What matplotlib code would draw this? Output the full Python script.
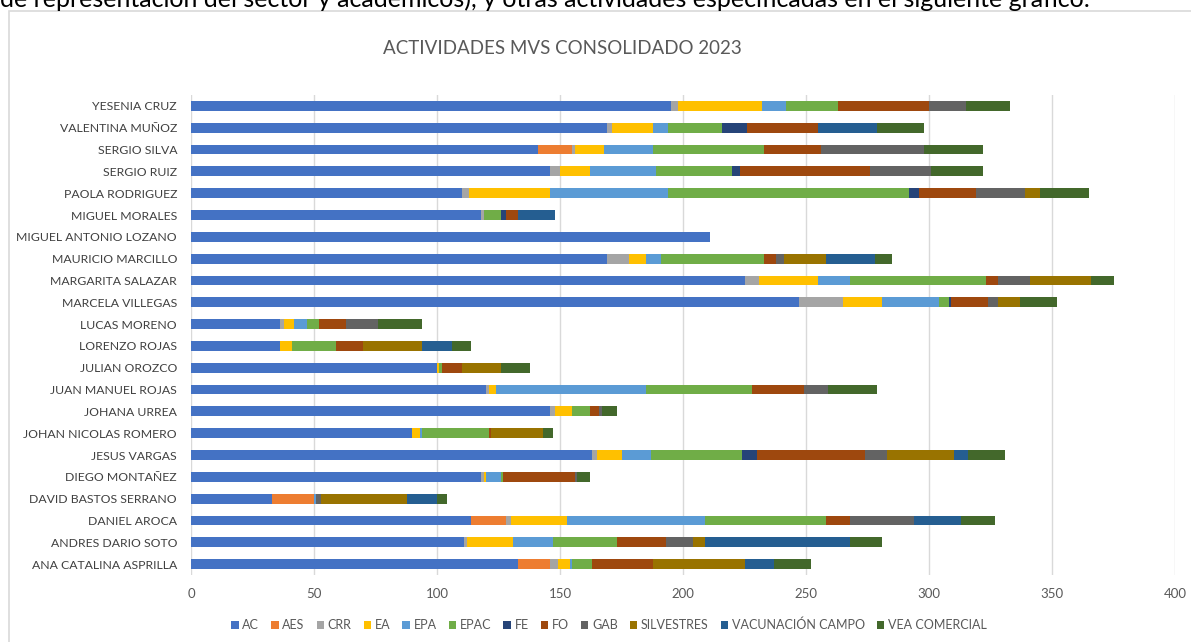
import numpy as np
import matplotlib.pyplot as plt
from matplotlib.patches import Rectangle

plt.rcParams['font.family'] = ['Lato', 'DejaVu Sans']

names = ["ANA CATALINA ASPRILLA", "ANDRES DARIO SOTO", "DANIEL AROCA",
         "DAVID BASTOS SERRANO", "DIEGO MONTAÑEZ", "JESUS VARGAS",
         "JOHAN NICOLAS ROMERO", "JOHANA URREA", "JUAN MANUEL ROJAS",
         "JULIAN OROZCO", "LORENZO ROJAS", "LUCAS MORENO", "MARCELA VILLEGAS",
         "MARGARITA SALAZAR", "MAURICIO MARCILLO", "MIGUEL ANTONIO LOZANO",
         "MIGUEL MORALES", "PAOLA RODRIGUEZ", "SERGIO RUIZ", "SERGIO SILVA",
         "VALENTINA MUÑOZ", "YESENIA CRUZ"]

activities = ["AC", "AES", "CRR", "EA", "EPA", "EPAC", "FE", "FO", "GAB",
              "SILVESTRES", "VACUNACIÓN CAMPO", "VEA COMERCIAL"]

# one list per activity, same order as names
AC = [133, 111, 114, 33, 118, 163, 90, 146, 120, 100, 36, 36, 247, 225, 169, 211, 118, 110, 146, 141, 169, 195]
AES = [13, 0, 14, 17, 0, 0, 0, 0, 0, 0, 0, 0, 0, 0, 0, 0, 0, 0, 0, 14, 0, 0]
CRR = [3, 1, 2, 0, 1, 2, 0, 2, 1, 0, 0, 2, 18, 6, 9, 0, 1, 3, 4, 1, 2, 3]
EA = [5, 19, 23, 0, 1, 10, 3, 7, 3, 1, 5, 4, 16, 24, 7, 0, 0, 33, 12, 12, 17, 34]
EPA = [1, 16, 56, 1, 6, 12, 1, 0, 61, 0, 0, 5, 23, 13, 6, 0, 0, 48, 27, 20, 6, 10]
EPAC = [8, 26, 49, 0, 1, 37, 27, 7, 43, 1, 18, 5, 4, 55, 42, 0, 7, 98, 31, 45, 22, 21]
FE = [0, 0, 0, 0, 0, 6, 0, 0, 0, 0, 0, 0, 1, 0, 0, 0, 2, 4, 3, 0, 10, 0]
FO = [25, 20, 10, 0, 29, 44, 1, 4, 21, 8, 11, 11, 15, 5, 5, 0, 5, 23, 53, 23, 29, 37]
GAB = [0, 11, 26, 2, 1, 9, 0, 1, 10, 0, 0, 13, 4, 13, 3, 0, 0, 20, 25, 42, 0, 15]
SILVESTRES = [37, 5, 0, 35, 0, 27, 21, 0, 0, 16, 24, 0, 9, 25, 17, 0, 0, 6, 0, 0, 0, 0]
VAC_CAMPO = [12, 59, 19, 12, 0, 6, 0, 0, 0, 0, 12, 0, 0, 0, 20, 0, 15, 0, 0, 0, 24, 0]
VEA_COM = [15, 13, 14, 4, 5, 15, 4, 6, 20, 12, 8, 18, 15, 9, 7, 0, 0, 20, 21, 24, 19, 18]

series = [AC, AES, CRR, EA, EPA, EPAC, FE, FO, GAB, SILVESTRES, VAC_CAMPO, VEA_COM]
colors = ["#4472C4", "#ED7D31", "#A5A5A5", "#FFC000", "#5B9BD5", "#70AD47",
          "#264478", "#9E480E", "#636363", "#997300", "#255E91", "#43682B"]

fig = plt.figure(figsize=(11.91, 6.42), dpi=100)

# line of the document above the chart, cut off at the top like in the screenshot
fig.text(0.0, 1 - 7 / 642, "de representación del sector y académicos), y otras actividades "
         "especificadas en el siguiente gráfico:", fontsize=18, va='baseline',
         ha='left', color='black')

# chart frame
fig.patches.append(Rectangle((9 / 1191, -0.1), 1.2, 1 - 11 / 642 + 0.1,
                             transform=fig.transFigure, fill=False,
                             edgecolor='#D9D9D9', linewidth=1.2))

ax = fig.add_axes([191 / 1191, 67 / 642, 984 / 1191, 480 / 642])

y = np.arange(len(names))
left = np.zeros(len(names))
for vals, col, lab in zip(series, colors, activities):
    vals = np.array(vals, dtype=float)
    ax.barh(y, vals, left=left, height=0.45, color=col, label=lab,
            edgecolor='none', zorder=3)
    left += vals

ax.set_xlim(0, 400)
ax.set_ylim(-0.5, len(names) - 0.5)
ax.set_xticks(np.arange(0, 401, 50))
ax.set_yticks(y)
ax.set_yticklabels(names)
ax.grid(axis='x', color='#D9D9D9', linewidth=1.0, zorder=0)
for s in ax.spines.values():
    s.set_visible(False)
ax.tick_params(axis='both', length=0, labelsize=9.5, colors='#595959')
ax.tick_params(axis='y', pad=10, labelsize=8.8, labelcolor='#404040')
ax.tick_params(axis='x', pad=9)

fig.text(562 / 1191, 1 - 48 / 642, "ACTIVIDADES MVS CONSOLIDADO 2023",
         ha='center', va='center', fontsize=13.5, color='#595959')

fig.legend(loc='center', bbox_to_anchor=(609 / 1191, 1 - 625 / 642), ncol=12,
           frameon=False, fontsize=9, handlelength=0.6, handleheight=0.6,
           handletextpad=0.3, columnspacing=0.95, labelcolor='#595959')

fig.savefig("out.png", dpi=100)
